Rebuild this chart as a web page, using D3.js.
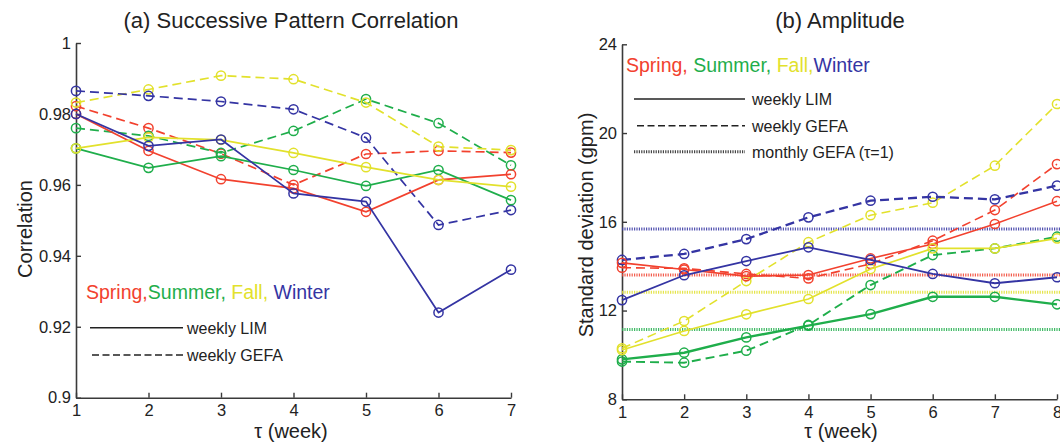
<!DOCTYPE html>
<html>
<head>
<meta charset="utf-8">
<script src="https://cdn.jsdelivr.net/npm/d3@7"></script>
<style>
  html, body { margin: 0; padding: 0; background: #fff; }
  svg { display: block; font-family: "Liberation Sans", Arial, Helvetica, sans-serif; }
</style>
</head>
<body>
<svg id="chart" width="1060" height="445"></svg>
<script>
// ---------------- DATA ----------------
const tausA = [1, 2, 3, 4, 5, 6, 7];
const tausB = [1, 2, 3, 4, 5, 6, 7, 8];
const seasons = ["Spring", "Summer", "Fall", "Winter"];

// (a) Successive pattern correlation
const corrLimSpring   = [0.9800, 0.9696, 0.9616, 0.9590, 0.9524, 0.9614, 0.9630];
const corrLimSummer   = [0.9703, 0.9648, 0.9681, 0.9642, 0.9597, 0.9642, 0.9557];
const corrLimFall     = [0.9703, 0.9734, 0.9727, 0.9690, 0.9650, 0.9614, 0.9595];
const corrLimWinter   = [0.9800, 0.9710, 0.9728, 0.9576, 0.9553, 0.9240, 0.9361];
const corrGefaSpring  = [0.9822, 0.9760, 0.9688, 0.9600, 0.9687, 0.9696, 0.9691];
const corrGefaSummer  = [0.9760, 0.9738, 0.9690, 0.9752, 0.9842, 0.9774, 0.9655];
const corrGefaFall    = [0.9832, 0.9869, 0.9908, 0.9898, 0.9832, 0.9708, 0.9698];
const corrGefaWinter  = [0.9865, 0.9851, 0.9835, 0.9813, 0.9733, 0.9487, 0.9529];

// (b) Amplitude (standard deviation, gpm)
const ampLimSpring    = [14.15, 13.85, 13.55, 13.60, 14.35, 15.00, 15.90, 16.93];
const ampLimSummer    = [9.80, 10.10, 10.79, 11.32, 11.84, 12.62, 12.62, 12.28];
const ampLimFall      = [10.22, 11.08, 11.83, 12.52, 13.87, 14.80, 14.80, 15.25];
const ampLimWinter    = [12.47, 13.59, 14.23, 14.85, 14.28, 13.65, 13.23, 13.50];
const ampGefaSpring   = [13.93, 13.90, 13.65, 13.45, 14.10, 15.15, 16.53, 18.60];
const ampGefaSummer   = [9.70, 9.65, 10.19, 11.35, 13.15, 14.50, 14.80, 15.33];
const ampGefaFall     = [10.30, 11.53, 13.33, 15.08, 16.30, 16.86, 18.53, 21.31];
const ampGefaWinter   = [14.28, 14.55, 15.22, 16.20, 16.95, 17.13, 17.01, 17.63];
const ampMonthlyGefa  = [13.60, 11.15, 12.82, 15.67]; // Spring, Summer, Fall, Winter

const yTicksA = [0.9, 0.92, 0.94, 0.96, 0.98, 1];
const yTickLabelsA = ["0.9", "0.92", "0.94", "0.96", "0.98", "1"];
const yTicksB = [8, 12, 16, 20, 24];

// ---------------- STYLE ----------------
const colors = { Spring: "#f2412e", Summer: "#1fae4b", Fall: "#e2e12c", Winter: "#3434a3" };
const axisColor = "#3a3a3a";
const textColor = "#222";

const svg = d3.select("#chart");

// ---------------- PANEL A ----------------
const xA = d3.scaleLinear().domain([1, 7]).range([76, 511]);
const yA = d3.scaleLinear().domain([0.9, 1]).range([397.7, 43]);

const limA = { Spring: corrLimSpring, Summer: corrLimSummer, Fall: corrLimFall, Winter: corrLimWinter };
const gefaA = { Spring: corrGefaSpring, Summer: corrGefaSummer, Fall: corrGefaFall, Winter: corrGefaWinter };

// ---------------- PANEL B ----------------
const xB = d3.scaleLinear().domain([1, 8]).range([622, 1057]);
const yB = d3.scaleLinear().domain([8, 24]).range([399.3, 44.3]);

const limB = { Spring: ampLimSpring, Summer: ampLimSummer, Fall: ampLimFall, Winter: ampLimWinter };
const gefaB = { Spring: ampGefaSpring, Summer: ampGefaSummer, Fall: ampGefaFall, Winter: ampGefaWinter };

function drawAxes(g, x, y, taus, yTicks, yFmt, bottom, left) {
  const ax = g.append("g").attr("transform", `translate(0,${bottom})`)
    .call(d3.axisBottom(x).tickValues(taus).tickSizeInner(-5).tickSizeOuter(0).tickPadding(7).tickFormat(d3.format("d")));
  const ay = g.append("g").attr("transform", `translate(${left},0)`)
    .call(d3.axisLeft(y).tickValues(yTicks).tickSizeInner(-5).tickSizeOuter(0).tickPadding(5).tickFormat(yFmt));
  [ax, ay].forEach(a => {
    a.select(".domain").attr("stroke", axisColor).attr("stroke-width", 1.6);
    a.selectAll(".tick line").attr("stroke", axisColor).attr("stroke-width", 1.4);
    a.selectAll(".tick text").attr("fill", textColor).style("font-size", "16.5px")
      .style("font-family", '"Liberation Sans", Arial, sans-serif');
  });
}

function drawSeries(g, x, y, taus, values, color, dash, width) {
  const line = d3.line().x((d, i) => x(taus[i])).y(d => y(d));
  g.append("path").datum(values)
    .attr("d", line)
    .attr("fill", "none")
    .attr("stroke", color)
    .attr("stroke-width", width)
    .attr("stroke-dasharray", dash);
  g.selectAll(null).data(values).enter().append("circle")
    .attr("cx", (d, i) => x(taus[i]))
    .attr("cy", d => y(d))
    .attr("r", 4.6)
    .attr("fill", "none")
    .attr("stroke", color)
    .attr("stroke-width", 1.5);
}

// ----- Panel A drawing -----
const gA = svg.append("g");
drawAxes(gA, xA, yA, tausA, yTicksA, (d, i) => yTickLabelsA[i], 397.7, 76);

const widthA = 1.7;
seasons.forEach(s => drawSeries(gA, xA, yA, tausA, gefaA[s], colors[s], "9,5", widthA));
seasons.forEach(s => drawSeries(gA, xA, yA, tausA, limA[s], colors[s], null, widthA));

// titles / labels
svg.append("text").attr("x", 291).attr("y", 28).attr("text-anchor", "middle")
  .style("font-size", "22px").attr("fill", textColor).text("(a) Successive Pattern Correlation");
svg.append("text").attr("x", 291).attr("y", 438).attr("text-anchor", "middle")
  .style("font-size", "20px").attr("fill", textColor).text("τ (week)");
svg.append("text").attr("transform", "translate(32,229) rotate(-90)").attr("text-anchor", "middle")
  .style("font-size", "20px").attr("fill", textColor).text("Correlation");

// legend A
function seasonLegend(x, y, seps) {
  const t = svg.append("text").attr("x", x).attr("y", y).style("font-size", "19.5px");
  seasons.forEach((s, i) => {
    t.append("tspan").attr("fill", colors[s]).text(s + (i < 3 ? "," : "") + (i < 3 ? seps[i] : ""));
  });
}
seasonLegend(86, 299, ["", " ", " "]);

const legA = svg.append("g");
legA.append("line").attr("x1", 90).attr("x2", 183).attr("y1", 327.7).attr("y2", 327.7)
  .attr("stroke", "#222").attr("stroke-width", 1.5);
legA.append("text").attr("x", 187).attr("y", 333.5).style("font-size", "16px").attr("fill", textColor).text("weekly LIM");
legA.append("line").attr("x1", 92).attr("x2", 183).attr("y1", 355).attr("y2", 355)
  .attr("stroke", "#222").attr("stroke-width", 1.5).attr("stroke-dasharray", "7,3.5");
legA.append("text").attr("x", 187).attr("y", 361).style("font-size", "16px").attr("fill", textColor).text("weekly GEFA");

// ----- Panel B drawing -----
const gB = svg.append("g");
drawAxes(gB, xB, yB, tausB, yTicksB, d3.format("d"), 399.3, 622);

// monthly GEFA dotted lines
seasons.forEach((s, i) => {
  gB.append("line").attr("x1", xB(1)).attr("x2", xB(8.2))
    .attr("y1", yB(ampMonthlyGefa[i])).attr("y2", yB(ampMonthlyGefa[i]))
    .attr("stroke", colors[s]).attr("stroke-width", 3).attr("stroke-dasharray", "1.2,1.2").attr("opacity", 0.85);
});

const widthsB = {
  lim: { Spring: 1.6, Summer: 2.4, Fall: 1.7, Winter: 1.8 },
  gefa: { Spring: 1.6, Summer: 1.9, Fall: 1.6, Winter: 2.3 }
};
seasons.forEach(s => drawSeries(gB, xB, yB, tausB, gefaB[s], colors[s], "9,5", widthsB.gefa[s]));
seasons.forEach(s => drawSeries(gB, xB, yB, tausB, limB[s], colors[s], null, widthsB.lim[s]));

svg.append("text").attr("x", 840).attr("y", 28).attr("text-anchor", "middle")
  .style("font-size", "22px").attr("fill", textColor).text("(b) Amplitude");
svg.append("text").attr("x", 841).attr("y", 438).attr("text-anchor", "middle")
  .style("font-size", "20px").attr("fill", textColor).text("τ (week)");
svg.append("text").attr("transform", "translate(593,225) rotate(-90)").attr("text-anchor", "middle")
  .style("font-size", "20px").attr("fill", textColor).text("Standard deviation (gpm)");

seasonLegend(626, 72, [" ", " ", ""]);

const legB = svg.append("g");
legB.append("line").attr("x1", 634).attr("x2", 745).attr("y1", 99).attr("y2", 99)
  .attr("stroke", "#222").attr("stroke-width", 1.5);
legB.append("text").attr("x", 752).attr("y", 105).style("font-size", "16px").attr("fill", textColor).text("weekly LIM");
legB.append("line").attr("x1", 637).attr("x2", 745).attr("y1", 125.7).attr("y2", 125.7)
  .attr("stroke", "#222").attr("stroke-width", 1.5).attr("stroke-dasharray", "7,3.5");
legB.append("text").attr("x", 752).attr("y", 131.5).style("font-size", "16px").attr("fill", textColor).text("weekly GEFA");
legB.append("line").attr("x1", 634).attr("x2", 745).attr("y1", 151.7).attr("y2", 151.7)
  .attr("stroke", "#444").attr("stroke-width", 3).attr("stroke-dasharray", "1.2,1.2");
legB.append("text").attr("x", 752).attr("y", 157.5).style("font-size", "16px").attr("fill", textColor).text("monthly GEFA (τ=1)");
</script>
</body>
</html>
